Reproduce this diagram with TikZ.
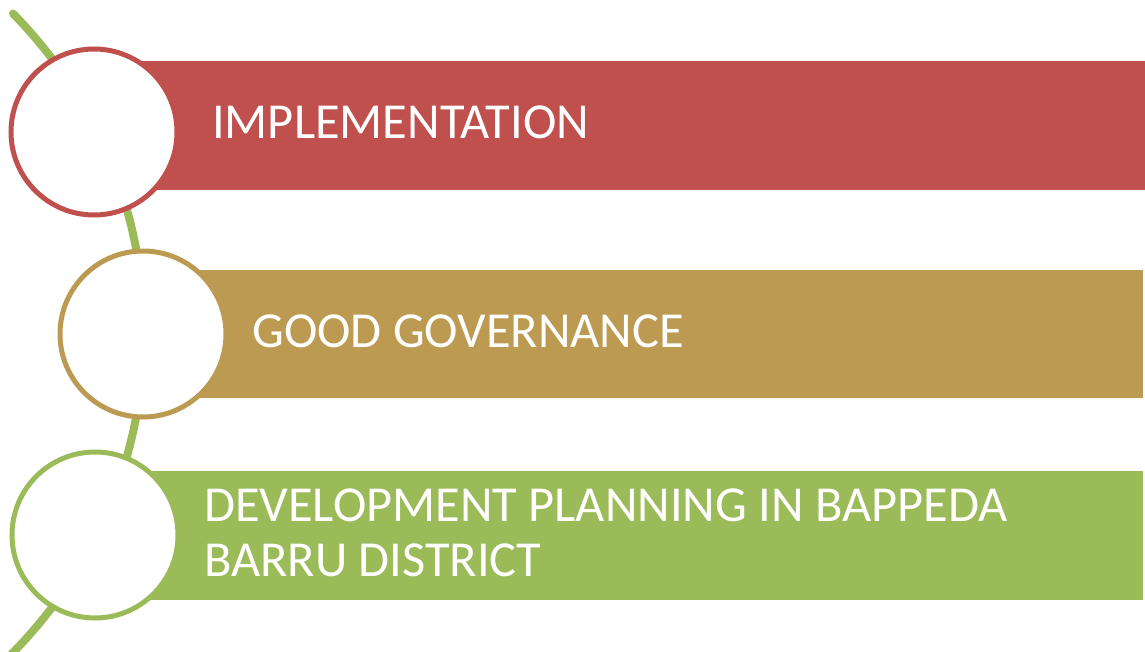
\documentclass[tikz,border=0pt]{standalone}
\usepackage{fontspec}
\setmainfont{Carlito}
\definecolor{cred}{HTML}{C0504D}
\definecolor{cgold}{HTML}{BD9A52}
\definecolor{cgreen}{HTML}{9BBB59}
\begin{document}
\begin{tikzpicture}[x=1pt,y=1pt,
  ring/.style={circle,fill=white,line width=5pt,minimum size=166pt,inner sep=0pt},
  label/.style={text=white,font=\fontsize{50.4}{54.5}\selectfont,inner sep=0pt,anchor=base west,align=left}]
\useasboundingbox (0,0) rectangle (1145,651);
\clip (0,0) rectangle (1145,651);
% spine
\coordinate (arcc) at (-311,318);
\draw[cgreen,line width=8pt,line cap=round] (arcc) ++(44.6:455pt) coordinate (arctop)
  arc[start angle=44.6,end angle=-47,radius=455pt] coordinate (arcbot);
% bars
\fill[cred] (94,461) rectangle (1145,590) coordinate (barR);
\fill[cgold] (143,253) rectangle (1143,381) coordinate (barG);
\fill[cgreen] (94,51) rectangle (1143,180) coordinate (barV);
% circles
\node[ring,draw=cred] (c1) at (94,519) {};
\node[ring,draw=cgold] (c2) at (143,317) {};
\node[ring,draw=cgreen] (c3) at (95,116) {};
% labels
\node[label] (t1) at (212,512) {IMPLEMENTATION};
\node[label] (t2) at (252,303) {GOOD GOVERNANCE};
\node[label] (t3) at (204,75) {DEVELOPMENT PLANNING IN BAPPEDA\\BARRU DISTRICT};
\end{tikzpicture}
\end{document}
